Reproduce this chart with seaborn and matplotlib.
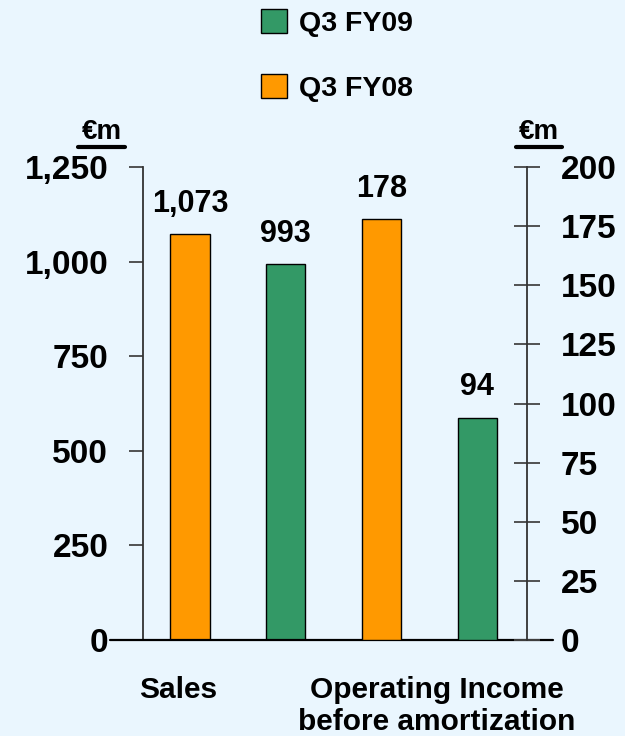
import matplotlib
matplotlib.use("Agg")
import matplotlib.pyplot as plt
import matplotlib.ticker as mticker
from matplotlib.lines import Line2D
from matplotlib.patches import Patch
import seaborn as sns
import pandas as pd

# data
periods = ["Q3 FY08", "Q3 FY09"]
sales = [1073, 993]
op_income = [178, 94]
slots = ["Sales Q3 FY08", "Sales Q3 FY09", "OI Q3 FY08", "OI Q3 FY09"]
category_labels = ["Sales", "Operating Income\nbefore amortization"]
left_ticks = [0, 250, 500, 750, 1000, 1250]
right_ticks = [0, 25, 50, 75, 100, 125, 150, 175, 200]

BG = "#EAF6FE"
colors = {"Q3 FY09": "#339966", "Q3 FY08": "#FF9900"}
FONT = "Liberation Sans"

sns.set_style("white")
plt.rcParams["font.family"] = [FONT, "DejaVu Sans"]
plt.rcParams["font.weight"] = "bold"
plt.rcParams["text.color"] = "black"
plt.rcParams["ytick.labelcolor"] = "black"

sales_df = pd.DataFrame({"slot": slots[:2], "value": sales, "period": periods})
oi_df = pd.DataFrame({"slot": slots[2:], "value": op_income, "period": periods})

fig = plt.figure(figsize=(6.25, 7.36), dpi=100, facecolor=BG)
ax = fig.add_axes([0.2288, 0.1304, 0.6144, 0.6427], facecolor=BG)
ax2 = ax.twinx()
ax2.set_facecolor("none")

bar_kw = dict(x="slot", y="value", hue="period", order=slots,
              hue_order=["Q3 FY09", "Q3 FY08"], palette=colors, dodge=False,
              width=0.41, saturation=1, edgecolor="black", linewidth=1,
              legend=False)
sns.barplot(data=sales_df, ax=ax, **bar_kw)
sns.barplot(data=oi_df, ax=ax2, **bar_kw)

for a in (ax, ax2):
    for c in a.containers:
        a.bar_label(c, fmt="{:,.0f}", padding=11, fontsize=22, fontweight="bold")

ax.set_xlim(-0.49, 3.52)
ax.set_ylim(0, 1250)
ax2.set_ylim(0, 200)
ax.set_yticks(left_ticks)
ax2.set_yticks(right_ticks)
ax.yaxis.set_major_formatter(mticker.StrMethodFormatter("{x:,.0f}"))
ax.set_xticks([])
ax.set_xlabel("")
ax.set_ylabel("")
ax2.set_ylabel("")

for a in (ax, ax2):
    for s in a.spines.values():
        s.set_visible(False)
ax.spines["left"].set_visible(True)
ax.spines["left"].set_color("#333333")
ax.spines["left"].set_linewidth(1.3)
ax2.spines["right"].set_visible(True)
ax2.spines["right"].set_color("#333333")
ax2.spines["right"].set_linewidth(1.3)

ax.tick_params(axis="y", direction="out", length=10, width=1.3, color="#444444",
               pad=15, labelsize=24)
ax2.tick_params(axis="y", direction="inout", length=19, width=1.3, color="#444444",
                pad=15, labelsize=24)
for t in ax.get_yticklabels() + ax2.get_yticklabels():
    t.set_fontweight("bold")

# baseline running past both axes
ax.add_line(Line2D([-0.086, 1.068], [0, 0], transform=ax.transAxes,
                   color="black", lw=1.6, clip_on=False, zorder=5))

# category labels under the bars
ax.text(-0.125, -0.077, category_labels[0], transform=ax.get_xaxis_transform(),
        ha="center", va="top", fontsize=21.5, fontweight="bold")
ax.text(2.58, -0.077, category_labels[1], transform=ax.get_xaxis_transform(),
        ha="center", va="top", fontsize=21.5, fontweight="bold", linespacing=1.17)

# unit labels
for xc, x0, x1 in [(101.7, 78, 125), (539, 516, 562)]:
    fig.text(xc / 625, 1 - 132 / 736, "€m", ha="center", va="center",
             fontsize=20, fontweight="bold")
    fig.add_artist(Line2D([x0 / 625, x1 / 625], [1 - 147 / 736] * 2,
                          color="black", lw=3))

handles = [Patch(facecolor=colors[p], edgecolor="black", linewidth=1)
           for p in ["Q3 FY09", "Q3 FY08"]]
fig.legend(handles, ["Q3 FY09", "Q3 FY08"], loc="upper left",
           bbox_to_anchor=(261 / 625, 1 - 9 / 736), frameon=False,
           prop={"family": FONT, "weight": "bold", "size": 20.5},
           handlelength=0.92, handleheight=0.92, handletextpad=0.42,
           labelspacing=1.3, borderaxespad=0, borderpad=0)

fig.savefig("out.png", dpi=100, facecolor=BG)
